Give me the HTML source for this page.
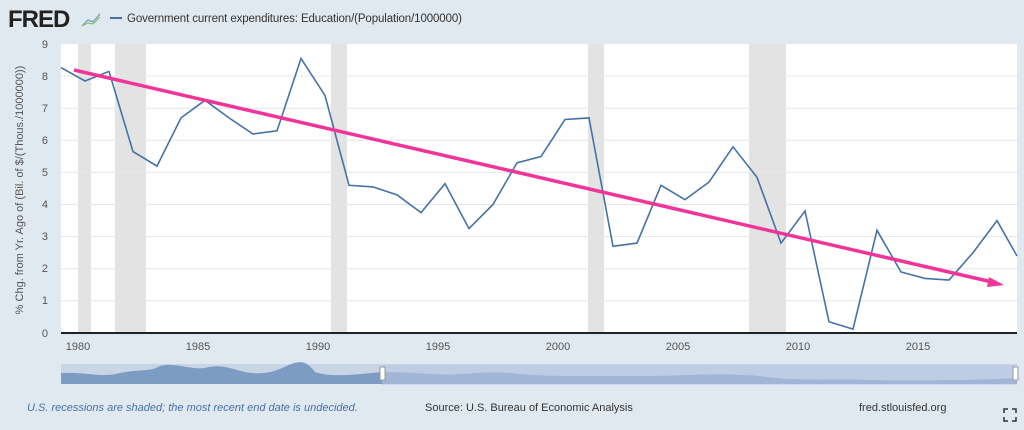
<!DOCTYPE html><html><head><style>
body{margin:0;width:1024px;height:430px;background:#e1e9f0;font-family:"Liberation Sans",sans-serif;overflow:hidden}
</style></head><body>
<svg width="1024" height="430" xmlns="http://www.w3.org/2000/svg" style="position:absolute;left:0;top:0">
<text x="8" y="27" font-size="24" font-weight="bold" fill="#222" letter-spacing="-1">FRED</text>
<polyline points="82,26 88,20 93,22 100,14" fill="none" stroke="#7aa8c8" stroke-width="1.5"/>
<polyline points="82,26 88,23 93,24 100,17" fill="none" stroke="#8fbf6a" stroke-width="1.2"/>
<line x1="110" y1="18" x2="122" y2="18" stroke="#4572a7" stroke-width="2"/>
<text x="127" y="22" font-size="11.5" fill="#333" textLength="335">Government current expenditures: Education/(Population/1000000)</text>
<rect x="61" y="44" width="956" height="289" fill="#fff"/>
<g fill="#e3e3e3">
<rect x="78" y="44" width="13" height="289"/><rect x="115" y="44" width="31" height="289"/>
<rect x="331" y="44" width="16" height="289"/><rect x="588" y="44" width="16" height="289"/>
<rect x="749" y="44" width="37" height="289"/></g>
<g stroke="#e6e6e6" stroke-width="1">
<line x1="61" x2="1017" y1="76.1" y2="76.1"/><line x1="61" x2="1017" y1="108.2" y2="108.2"/>
<line x1="61" x2="1017" y1="140.3" y2="140.3"/><line x1="61" x2="1017" y1="172.4" y2="172.4"/>
<line x1="61" x2="1017" y1="204.5" y2="204.5"/><line x1="61" x2="1017" y1="236.6" y2="236.6"/>
<line x1="61" x2="1017" y1="268.7" y2="268.7"/><line x1="61" x2="1017" y1="300.8" y2="300.8"/></g>
<line x1="61" x2="1017" y1="333" y2="333" stroke="#222" stroke-width="2"/>
<g font-size="11" fill="#555" text-anchor="end">
<text x="48" y="48">9</text><text x="48" y="80">8</text><text x="48" y="112">7</text><text x="48" y="144">6</text><text x="48" y="176">5</text><text x="48" y="208">4</text><text x="48" y="240">3</text><text x="48" y="272">2</text><text x="48" y="304">1</text><text x="48" y="337">0</text></g>
<g font-size="11" fill="#555" text-anchor="middle">
<text x="78" y="350">1980</text><text x="198" y="350">1985</text><text x="318" y="350">1990</text><text x="438" y="350">1995</text><text x="558" y="350">2000</text><text x="678" y="350">2005</text><text x="798" y="350">2010</text><text x="918" y="350">2015</text></g>
<text transform="translate(23,190) rotate(-90)" font-size="11" fill="#555" text-anchor="middle">% Chg. from Yr. Ago of (Bil. of $/(Thous./1000000))</text>
<polyline fill="none" stroke="#4572a7" stroke-width="1.6" points="61,67.6 85,81.0 109,71.4 133,151.6 157,166.1 181,117.9 205,100.3 229,117.9 253,134.0 277,130.8 301,58.5 325,95.5 349,185.3 373,186.9 397,194.9 421,212.6 445,183.7 469,228.6 493,204.5 517,162.8 541,156.5 565,119.5 589,117.9 613,246.3 637,243.1 661,185.3 685,199.7 709,182.1 733,146.8 757,177.3 781,243.1 805,211.0 829,321.8 853,329.1 877,230.3 901,272.0 925,278.4 949,280.0 973,252.7 997,220.6 1017,256"/>
<line x1="74" y1="70" x2="992" y2="282" stroke="#f0359a" stroke-width="3.5"/>
<polygon points="1004,285 989,277 987,287" fill="#f0359a"/>
<rect x="61" y="364" width="956" height="20" fill="#c9d5e5"/>
<path d="M61,373 C90,372 100,378 120,373 C140,369 150,372 160,366 C175,362 190,370 205,368 C230,361 240,378 270,372 C290,368 300,352 315,372 C330,378 360,374 382,372 C420,372 440,376 460,374 C480,373 500,371 520,374 C560,377 600,376 650,376 C700,375 720,373 760,376 C800,382 830,378 870,380 C920,381 980,380 1017,378 L1017,384 L61,384Z" fill="#7d9cc4"/>
<rect x="382" y="365" width="635" height="20" fill="#b9c8e2" opacity="0.6"/>
<rect x="380" y="367" width="5" height="13" fill="#fff" stroke="#999"/>
<rect x="1013" y="367" width="5" height="13" fill="#fff" stroke="#999"/>
<text x="27" y="411" font-size="11" font-style="italic" fill="#4572a7">U.S. recessions are shaded; the most recent end date is undecided.</text>
<text x="425" y="411" font-size="11" fill="#333">Source: U.S. Bureau of Economic Analysis</text>
<text x="859" y="411" font-size="11" fill="#333">fred.stlouisfed.org</text>
<path d="M1004,413v-4h4 M1012,409h4v4 M1004,417v4h4 M1016,417v4h-4" stroke="#333" fill="none" stroke-width="1.5"/>
</svg></body></html>
